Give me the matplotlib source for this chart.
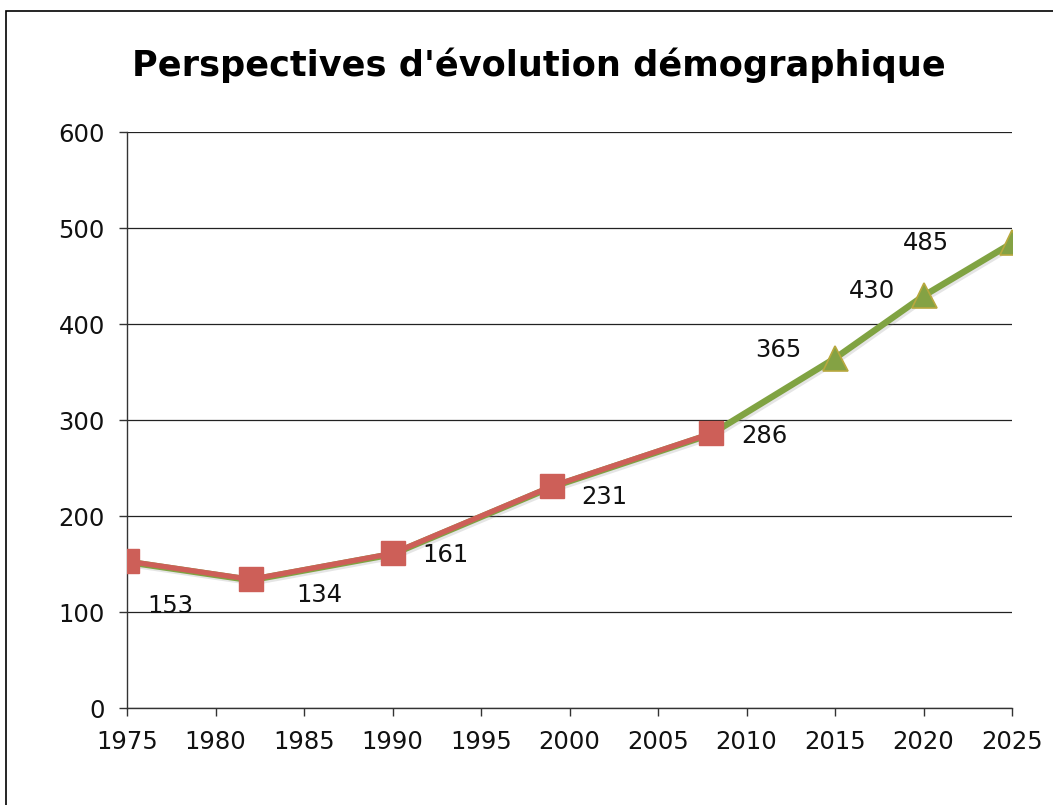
import matplotlib
matplotlib.use("Agg")
import matplotlib.pyplot as plt
import matplotlib.patheffects as pe
from matplotlib.patches import Rectangle

title = "Perspectives d'évolution démographique"
years_obs = [1975, 1982, 1990, 1999, 2008]
pop_obs = [153, 134, 161, 231, 286]
years_proj = [1975, 1982, 1990, 1999, 2008, 2015, 2020, 2025]
pop_proj = [153, 134, 161, 231, 286, 365, 430, 485]
labels = ["153", "134", "161", "231", "286", "365", "430", "485"]
xticks = [1975, 1980, 1985, 1990, 1995, 2000, 2005, 2010, 2015, 2020, 2025]
yticks = [0, 100, 200, 300, 400, 500, 600]

# label offsets in pixels (dx, dy) relative to point
label_offsets = [(43, -45), (68, -16), (53, -2), (53, -11), (53, -3),
                 (-57, 8), (-52, 4), (-86, -1)]

fig = plt.figure(figsize=(10.53, 8.05), dpi=100)
fig.patch.set_facecolor("white")
ax = fig.add_axes([127/1053, 1-708/805, (1012-127)/1053, (708-132)/805])

# figure border (left and top visible)
fig.patches.append(Rectangle((6/1053, -0.1), 1.2, (805-11)/805 + 0.1,
                             transform=fig.transFigure, fill=False,
                             edgecolor="black", linewidth=1.2))

n_obs = len(years_obs)
GREEN = "#80A342"
RED = "#CD5F58"
ax.plot(years_proj, pop_proj, color=GREEN, linewidth=3.8, zorder=3,
        path_effects=[pe.SimpleLineShadow(offset=(1.5, -2.5), shadow_color="gray", alpha=0.2),
                      pe.Stroke(offset=(0, -1.0), linewidth=3.8, foreground=GREEN),
                      pe.Normal()])
ax.plot(years_proj, pop_proj, linestyle="none", marker="^", markersize=18,
        markerfacecolor="#84A244", markeredgecolor="#B8A83E", markeredgewidth=1.2,
        markevery=list(range(n_obs, len(years_proj))), zorder=4)
ax.plot(years_obs, pop_obs, color=RED, linewidth=3.8, zorder=5)
ax.plot(years_obs, pop_obs, linestyle="none", marker="s",
        markersize=17.5, markerfacecolor=RED, markeredgecolor=RED,
        zorder=6)

for x, y, t, (dx, dy) in zip(years_proj, pop_proj, labels, label_offsets):
    ax.annotate(t, (x, y), xytext=(dx*0.72, dy*0.72), textcoords="offset points",
                ha="center", va="center", fontsize=17.5, color="#111111", zorder=7)

ax.set_xlim(1975, 2025)
ax.set_ylim(0, 600)
ax.set_xticks(xticks)
ax.set_yticks(yticks)
ax.tick_params(axis="both", labelsize=17.5, length=6, width=1, color="#333333",
               labelcolor="#111111", pad=10)
ax.yaxis.grid(True, color="#222222", linewidth=0.9)
ax.set_axisbelow(True)
for s in ["top", "right"]:
    ax.spines[s].set_visible(False)
for s in ["left", "bottom"]:
    ax.spines[s].set_color("#333333")
    ax.spines[s].set_linewidth(1)

fig.text(539/1053, 1-65/805, title, ha="center", va="center",
         fontsize=25.3, fontweight="bold", color="black")

fig.savefig("out.png", dpi=100, facecolor="white")
